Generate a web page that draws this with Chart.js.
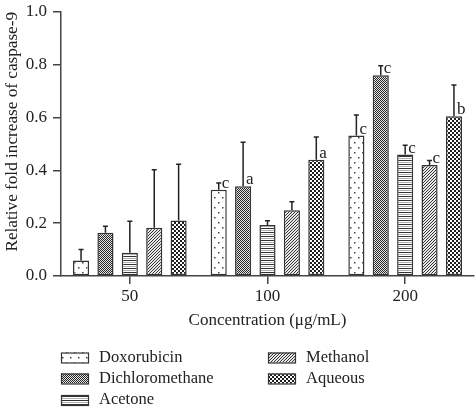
<!DOCTYPE html>
<html><head><meta charset="utf-8">
<script src="https://cdn.jsdelivr.net/npm/chart.js@4"></script>
<style>html,body{margin:0;padding:0;background:#fff}</style>
</head><body>
<canvas id="c" width="475" height="409"></canvas>
<script>
// ---- data ----
const concentrations = ['50', '100', '200'];
const seriesNames = ['Doxorubicin', 'Dichloromethane', 'Acetone', 'Methanol', 'Aqueous'];
const doxorubicin     = [0.059, 0.327, 0.532];
const dichloromethane = [0.164, 0.340, 0.760];
const acetone         = [0.088, 0.193, 0.460];
const methanol        = [0.183, 0.249, 0.420];
const aqueous         = [0.210, 0.440, 0.605];
const doxorubicinErr     = [0.041, 0.025, 0.078];
const dichloromethaneErr = [0.024, 0.167, 0.036];
const acetoneErr         = [0.119, 0.016, 0.035];
const methanolErr        = [0.219, 0.032, 0.017];
const aqueousErr         = [0.213, 0.086, 0.118];
const doxorubicinSig     = ['', 'c', 'c'];
const dichloromethaneSig = ['', 'a', 'c'];
const acetoneSig         = ['', '', 'c'];
const methanolSig        = ['', '', 'c'];
const aqueousSig         = ['', 'a', 'b'];
const yTickLabels = ['0.0', '0.2', '0.4', '0.6', '0.8', '1.0'];

// ---- patterns ----
function makeTile(w, h, draw) {
  const t = document.createElement('canvas');
  t.width = w; t.height = h;
  const g = t.getContext('2d');
  draw(g, w, h);
  return document.createElement('canvas').getContext('2d').createPattern(t, 'repeat');
}
const patDots = makeTile(8, 10, (g) => {
  g.fillStyle = '#fff'; g.fillRect(0, 0, 8, 10);
  g.fillStyle = '#444'; g.fillRect(2, 2, 1.5, 1.5); g.fillRect(6, 7, 1.5, 1.5);
});
const patFine = makeTile(2, 2, (g) => {
  g.fillStyle = '#e6e6e6'; g.fillRect(0, 0, 2, 2);
  g.fillStyle = '#262626'; g.fillRect(0, 0, 1, 1); g.fillRect(1, 1, 1, 1);
});
const patStripes = makeTile(4, 4, (g) => {
  g.fillStyle = '#fff'; g.fillRect(0, 0, 4, 4);
  g.fillStyle = '#333'; g.fillRect(0, 0, 4, 1);
  g.fillStyle = '#b0b0b0'; g.fillRect(0, 2, 4, 1);
});
const patDiag = makeTile(3, 3, (g) => {
  g.fillStyle = '#e8e8e8'; g.fillRect(0, 0, 3, 3);
  g.fillStyle = '#333';
  g.fillRect(2, 0, 1, 1); g.fillRect(1, 1, 1, 1); g.fillRect(0, 2, 1, 1);
});
const patChecker = makeTile(4, 4, (g) => {
  g.fillStyle = '#fff'; g.fillRect(0, 0, 4, 4);
  g.fillStyle = '#1e1e1e'; g.fillRect(0, 0, 2, 2); g.fillRect(2, 2, 2, 2);
});

const values = [doxorubicin, dichloromethane, acetone, methanol, aqueous];
const errs = [doxorubicinErr, dichloromethaneErr, acetoneErr, methanolErr, aqueousErr];
const sigs = [doxorubicinSig, dichloromethaneSig, acetoneSig, methanolSig, aqueousSig];
const pats = [patDots, patFine, patStripes, patDiag, patChecker];

const FONT = "'Liberation Serif', 'Times New Roman', serif";
const TXT = '#222';

const datasets = seriesNames.map((n, i) => ({
  label: n,
  data: values[i],
  backgroundColor: pats[i],
  borderColor: '#333',
  borderWidth: 1.5,
  borderSkipped: false,
  categoryPercentage: 0.886,
  barPercentage: 0.66
}));

const errorBarPlugin = {
  id: 'errorBars',
  afterDatasetsDraw(chart) {
    const ctx = chart.ctx;
    const y = chart.scales.y;
    ctx.save();
    ctx.strokeStyle = '#222';
    ctx.lineWidth = 1.5;
    chart.data.datasets.forEach((ds, i) => {
      const meta = chart.getDatasetMeta(i);
      meta.data.forEach((bar, j) => {
        const top = y.getPixelForValue(ds.data[j] + errs[i][j]);
        ctx.beginPath();
        ctx.moveTo(bar.x, bar.y);
        ctx.lineTo(bar.x, top);
        ctx.moveTo(bar.x - 2.5, top);
        ctx.lineTo(bar.x + 2.5, top);
        ctx.stroke();
        const s = sigs[i][j];
        if (s) {
          ctx.fillStyle = TXT;
          ctx.font = '17px ' + FONT;
          ctx.textAlign = 'left';
          ctx.textBaseline = 'alphabetic';
          ctx.fillText(s, bar.x + 3, bar.y - 2);
        }
      });
    });
    ctx.restore();
  }
};

const legendPlugin = {
  id: 'colLegend',
  afterDraw(chart) {
    const ctx = chart.ctx;
    const cols = [[0, 1, 2], [3, 4]];
    const colX = [61, 268];
    const rowY = [357.5, 378.5, 400];
    ctx.save();
    ctx.font = '16.5px ' + FONT;
    ctx.textBaseline = 'middle';
    ctx.textAlign = 'left';
    cols.forEach((col, c) => {
      col.forEach((idx, r) => {
        const x = colX[c], yy = rowY[r];
        ctx.fillStyle = pats[idx];
        ctx.fillRect(x, yy - 5, 28, 10);
        ctx.strokeStyle = '#333';
        ctx.lineWidth = 1.2;
        ctx.strokeRect(x + 0.5, yy - 5 + 0.5, 27, 10);
        ctx.fillStyle = TXT;
        ctx.fillText(seriesNames[idx], x + 38, yy);
      });
    });
    ctx.restore();
  }
};

new Chart(document.getElementById('c'), {
  type: 'bar',
  data: { labels: concentrations, datasets },
  plugins: [errorBarPlugin, legendPlugin],
  options: {
    responsive: false,
    animation: false,
    devicePixelRatio: 1,
    layout: { padding: { left: 0, right: 1, top: 6, bottom: 75 } },
    plugins: { legend: { display: false }, tooltip: { enabled: false } },
    scales: {
      x: {
        grid: { display: true, drawOnChartArea: false, offset: false, tickLength: 8, color: '#444', lineWidth: 1.5 },
        border: { display: true, color: '#444', width: 1.5 },
        ticks: { font: { family: FONT, size: 17 }, color: TXT, padding: 2 },
        title: { display: true, text: 'Concentration (μg/mL)', font: { family: FONT, size: 17 }, color: TXT, padding: { top: 2, bottom: 3 } },
        afterFit: (s) => { s.height = 58; }
      },
      y: {
        min: 0, max: 1,
        ticks: { stepSize: 0.2, callback: (v, i) => yTickLabels[i], font: { family: FONT, size: 17, lineHeight: 0.7 }, color: TXT, padding: 6 },
        grid: { display: true, drawOnChartArea: false, tickLength: 8, color: '#444', lineWidth: 1.5 },
        border: { display: true, color: '#444', width: 1.5 },
        title: { display: true, align: 'end', text: 'Relative fold increase of caspase-9', font: { family: FONT, size: 17.2 }, color: TXT, padding: { top: 2.5, bottom: 0 } },
        afterFit: (s) => { s.width = 61; }
      }
    }
  }
});
</script>
</body></html>
